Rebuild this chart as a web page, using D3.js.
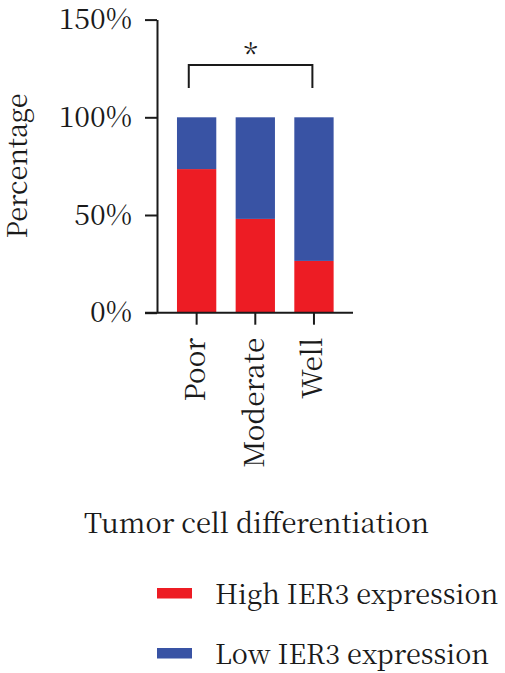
<!DOCTYPE html>
<html>
<head>
<meta charset="utf-8">
<script src="https://cdn.jsdelivr.net/npm/d3@7"></script>
</head>
<body style="margin:0; background:#fff">
<div id="app"></div>
<script>
const categories = ["Poor", "Moderate", "Well"];
const highValues = [73.5, 48, 26.5];
const lowValues = [26.5, 52, 73.5];
const yTicks = [0, 50, 100, 150];
const seriesNames = ["High IER3 expression", "Low IER3 expression"];
const seriesColors = ["#ed1c24", "#3953a4"];

const width = 505, height = 673;
const fontFam = "'Noto Serif CJK SC', 'Liberation Serif', serif";
const ink = "#1a1a1a";

const svg = d3.select("#app").append("svg")
	.attr("width", width)
	.attr("height", height)
	.style("font-family", fontFam);

const x = d3.scaleBand()
	.domain(categories)
	.range([167.3, 343.3])
	.paddingInner(0.33)
	.paddingOuter(0.165);

const y = d3.scaleLinear()
	.domain([0, 150])
	.range([312.7, 19.6]);

//stacked rows
let rows = categories.map(function(c, i){
	return {cat: c, high: highValues[i], low: lowValues[i]};
});
let stack = d3.stack().keys(["high", "low"])(rows);

svg.selectAll("g.layer").data(stack).enter().append("g")
	.attr("class", "layer")
	.attr("fill", function(d, i){ return seriesColors[i]; })
	.selectAll("rect").data(function(d){ return d; }).enter().append("rect")
	.attr("x", function(d){ return x(d.data.cat); })
	.attr("y", function(d){ return y(d[1]); })
	.attr("width", x.bandwidth())
	.attr("height", function(d){ return y(d[0]) - y(d[1]); });

function styleAxis(g){
	g.attr("font-family", null);
	g.selectAll(".domain, .tick line").attr("stroke", ink).attr("stroke-width", 2);
	g.selectAll("text").attr("fill", ink).style("font-family", fontFam);
}

//y axis
const yAxis = svg.append("g")
	.attr("transform", "translate(157,0)")
	.call(d3.axisLeft(y).tickValues(yTicks).tickSize(12).tickPadding(13)
		.tickFormat(function(d){ return d + "%"; }).tickSizeOuter(0));
styleAxis(yAxis);
yAxis.selectAll("text").attr("font-size", 28.5);

//x axis
const xAxis = svg.append("g")
	.attr("transform", "translate(0," + y(0) + ")")
	.call(d3.axisBottom(x).tickSize(12).tickSizeOuter(0));
styleAxis(xAxis);
xAxis.select(".domain").attr("d", "M145,0H353");
xAxis.selectAll("text")
	.attr("font-size", 28)
	.attr("transform", "rotate(-90)")
	.attr("text-anchor", "end")
	.attr("x", -25)
	.attr("y", 0)
	.attr("dy", "0.3em");

//significance bracket
const bx1 = x("Poor") + x.bandwidth() * 0.3,
	bx2 = x("Well") + x.bandwidth() * 0.46;
svg.append("path")
	.attr("d", "M" + bx1 + "," + y(115) + "V" + y(126.8) + "H" + bx2 + "V" + y(115))
	.attr("fill", "none")
	.attr("stroke", ink)
	.attr("stroke-width", 2);
svg.append("text")
	.attr("x", (bx1 + bx2) / 2)
	.attr("y", 66)
	.attr("text-anchor", "middle")
	.attr("font-size", 29)
	.attr("fill", ink)
	.text("*");

//axis titles
svg.append("text")
	.attr("transform", "translate(27,166) rotate(-90)")
	.attr("text-anchor", "middle")
	.attr("font-size", 27)
	.attr("fill", ink)
	.text("Percentage");

svg.append("text")
	.attr("x", 256.5)
	.attr("y", 533)
	.attr("text-anchor", "middle")
	.attr("font-size", 27.3)
	.attr("fill", ink)
	.text("Tumor cell differentiation");

//legend
const legend = svg.selectAll("g.legend").data(seriesNames).enter().append("g")
	.attr("class", "legend")
	.attr("transform", function(d, i){ return "translate(157," + (588 + i * 60) + ")"; });
legend.append("rect")
	.attr("width", 35)
	.attr("height", 10.5)
	.attr("fill", function(d, i){ return seriesColors[i]; });
legend.append("text")
	.attr("x", 58)
	.attr("y", 16)
	.attr("font-size", 27)
	.attr("fill", ink)
	.text(function(d){ return d; });
</script>
</body>
</html>
